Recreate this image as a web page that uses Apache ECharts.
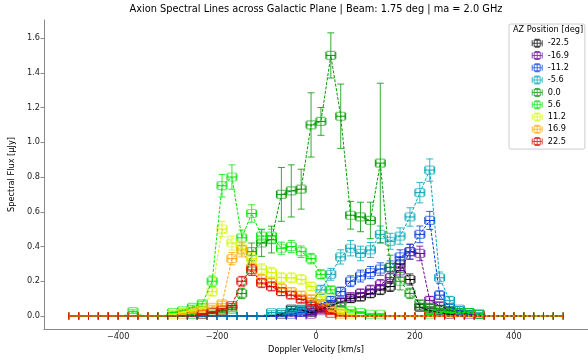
<!DOCTYPE html>
<html><head><meta charset="utf-8">
<script src="https://cdn.jsdelivr.net/npm/echarts@6/dist/echarts.min.js"></script>
<style>html,body{margin:0;padding:0;background:#fff}#c{width:588px;height:360px}</style>
</head><body><div id="c"></div>
<script>
// Doppler velocity bin centres [km/s]
const velocity = [
 -490,-470,-450,-430,-410,-390,-370,-350,-330,-310,
 -290,-270,-250,-230,-210,-190,-170,-150,-130,-110,
 -90,-70,-50,-30,-10,10,30,50,70,90,
 110,130,150,170,190,210,230,250,270,290,
 310,330,350,370,390,410,430,450,470,490];
const velocityHalfBin = 10;

const azLabels = ['-22.5','-16.9','-11.2','-5.6','0.0','5.6','11.2','16.9','22.5'];
const azColors = ['#000000','#66009d','#003bdd','#00a6b7','#009900','#00e600','#d4f600','#ffa600','#dd0000'];

const flux_m22_5 = [
 0,0,0,0,0,0,0,0,0,0,
 0,0,0,0,0,0,0,0,0,0,
 0,0.01,0.04,0.035,0.02,0.04,0.06,0.08,0.10,0.11,
 0.13,0.15,0.17,0.30,0.21,0.05,0.03,0.02,0.01,0,
 0,0,0,0,0,0,0,0,0,0];
const err_m22_5 = [
 0,0,0,0,0,0,0,0,0,0,
 0,0,0,0,0,0,0,0,0,0,
 0,0.007,0.014,0.013,0.01,0.014,0.017,0.02,0.022,0.023,
 0.025,0.027,0.029,0.038,0.032,0.016,0.012,0.01,0.007,0,
 0,0,0,0,0,0,0,0,0,0];

const flux_m16_9 = [
 0,0,0,0,0,0,0,0,0,0,
 0,0,0,0,0,0,0,0,0,0,
 0,0,0,0,0.01,0.03,0.055,0.08,0.11,0.13,
 0.15,0.18,0.22,0.26,0.37,0.36,0.09,0.06,0.03,0.02,
 0.01,0,0,0,0,0,0,0,0,0];
const err_m16_9 = [
 0,0,0,0,0,0,0,0,0,0,
 0,0,0,0,0,0,0,0,0,0,
 0,0,0,0,0.007,0.012,0.016,0.02,0.023,0.025,
 0.027,0.03,0.033,0.036,0.043,0.042,0.021,0.017,0.012,0.01,
 0.007,0,0,0,0,0,0,0,0,0];

const flux_m11_2 = [
 0,0,0,0,0,0,0,0,0,0,
 0,0,0,0,0,0,0,0,0,0,
 0,0,0.01,0.02,0.04,0.07,0.09,0.14,0.20,0.23,
 0.25,0.27,0.28,0.34,0.37,0.47,0.55,0.12,0.05,0.03,
 0.02,0.01,0,0,0,0,0,0,0,0];
const err_m11_2 = [
 0,0,0,0,0,0,0,0,0,0,
 0,0,0,0,0,0,0,0,0,0,
 0,0,0.007,0.01,0.014,0.018,0.021,0.026,0.031,0.034,
 0.035,0.036,0.037,0.041,0.043,0.048,0.052,0.024,0.016,0.012,
 0.01,0.007,0,0,0,0,0,0,0,0];

const flux_m5_6 = [
 0,0,0,0,0,0,0,0,0,0,
 0,0,0,0,0,0,0,0,0,0,
 0.02,0.02,0.03,0.04,0.08,0.15,0.24,0.34,0.39,0.36,
 0.38,0.47,0.43,0.46,0.57,0.71,0.84,0.22,0.09,0.04,
 0.02,0.01,0,0,0,0,0,0,0,0];
const err_m5_6 = [
 0,0,0,0,0,0,0,0,0,0,
 0,0,0,0,0,0,0,0,0,0,
 0.01,0.01,0.012,0.014,0.02,0.027,0.034,0.041,0.044,0.042,
 0.043,0.048,0.046,0.047,0.053,0.059,0.064,0.033,0.021,0.014,
 0.01,0.007,0,0,0,0,0,0,0,0];

const flux_0_0 = [
 0,0,0,0,0,0,0,0,0,0,
 0,0,0.01,0.01,0.02,0.03,0.04,0.13,0.37,0.42,
 0.44,0.70,0.72,0.73,1.10,1.12,1.50,1.15,0.58,0.57,
 0.55,0.88,0.28,0.20,0.13,0.07,0.05,0.04,0.03,0.02,
 0.02,0.01,0,0,0,0,0,0,0,0];
const err_0_0 = [
 0,0,0,0,0,0,0,0,0,0,
 0,0,0.005,0.005,0.008,0.01,0.012,0.03,0.05,0.077,
 0.077,0.155,0.15,0.115,0.185,0.08,0.13,0.185,0.08,0.085,
 0.105,0.46,0.07,0.05,0.03,0.02,0.015,0.012,0.01,0.008,
 0.008,0.005,0,0,0,0,0,0,0,0];

const flux_5_6 = [
 0,0,0,0,0,0,0.025,0,0,0,
 0.02,0.03,0.05,0.07,0.20,0.75,0.80,0.45,0.59,0.46,
 0.46,0.39,0.40,0.37,0.33,0.24,0.15,0.06,0.03,0.02,
 0.01,0.01,0,0,0,0,0.01,0.02,0.02,0.02,
 0.02,0.01,0,0,0,0,0,0,0,0];
const err_5_6 = [
 0,0,0,0,0,0,0.01,0,0,0,
 0.008,0.01,0.012,0.015,0.03,0.065,0.07,0.045,0.05,0.04,
 0.04,0.035,0.035,0.033,0.03,0.026,0.02,0.012,0.008,0.006,
 0.005,0.005,0,0,0,0,0.005,0.006,0.006,0.006,
 0.006,0.005,0,0,0,0,0,0,0,0];

const flux_11_2 = [
 0,0,0,0,0,0,0,0,0,0,
 0.01,0.02,0.03,0.04,0.14,0.50,0.42,0.39,0.33,0.27,
 0.25,0.22,0.22,0.21,0.17,0.11,0.05,0.02,0.01,0,
 0,0,0,0,0,0,0,0,0,0,
 0,0,0,0,0,0,0,0,0,0];
const err_11_2 = [
 0,0,0,0,0,0,0,0,0,0,
 0.004,0.006,0.008,0.01,0.025,0.045,0.04,0.04,0.035,0.03,
 0.03,0.028,0.028,0.027,0.024,0.02,0.012,0.007,0.004,0,
 0,0,0,0,0,0,0,0,0,0,
 0,0,0,0,0,0,0,0,0,0];

const flux_16_9 = [
 0,0,0,0,0,0,0,0,0,0,
 0,0.01,0.02,0.03,0.05,0.07,0.33,0.38,0.28,0.21,
 0.19,0.16,0.14,0.12,0.10,0.07,0.03,0.01,0,0,
 0,0,0,0,0,0,0,0,0,0,
 0,0,0,0,0,0,0,0,0,0];
const err_16_9 = [
 0,0,0,0,0,0,0,0,0,0,
 0,0.004,0.006,0.008,0.012,0.015,0.035,0.04,0.035,0.028,
 0.027,0.024,0.022,0.02,0.018,0.014,0.009,0.005,0,0,
 0,0,0,0,0,0,0,0,0,0,
 0,0,0,0,0,0,0,0,0,0];

const flux_22_5 = [
 0,0,0,0,0,0,0,0,0,0,
 0,0,0,0.01,0.02,0.035,0.06,0.20,0.265,0.19,
 0.17,0.14,0.12,0.095,0.065,0.045,0.015,0,0,0,
 0,0,0,0,0,0,0,0,0,0,
 0,0,0,0,0,0,0,0,0,0];
const err_22_5 = [
 0,0,0,0,0,0,0,0,0,0,
 0,0,0,0.004,0.006,0.008,0.012,0.028,0.032,0.027,
 0.026,0.022,0.02,0.018,0.014,0.012,0.006,0,0,0,
 0,0,0,0,0,0,0,0,0,0,
 0,0,0,0,0,0,0,0,0,0];

const xTicks = [-400,-200,0,200,400];
const yTicks = [0,0.2,0.4,0.6,0.8,1.0,1.2,1.4,1.6];

const fluxSets = [flux_m22_5, flux_m16_9, flux_m11_2, flux_m5_6, flux_0_0, flux_5_6, flux_11_2, flux_16_9, flux_22_5];
const errSets  = [err_m22_5, err_m16_9, err_m11_2, err_m5_6, err_0_0, err_5_6, err_11_2, err_16_9, err_22_5];

const FONT = 'DejaVu Sans';

function makeRender(color){
  return function(params, api){
    const v = api.value(0), y = api.value(1), e = api.value(2);
    const c = api.coord([v, y]);
    const l = api.coord([v - velocityHalfBin, y]);
    const r = api.coord([v + velocityHalfBin, y]);
    const cap = 3.5;
    const st = {stroke: color, lineWidth: 1, opacity: 1};
    const ch = [
      {type:'line', shape:{x1:l[0], y1:l[1], x2:r[0], y2:r[1]}, style:st},
      {type:'line', shape:{x1:l[0], y1:l[1]-cap, x2:l[0], y2:l[1]+cap}, style:st},
      {type:'line', shape:{x1:r[0], y1:r[1]-cap, x2:r[0], y2:r[1]+cap}, style:st}
    ];
    if (e > 0) {
      const t = api.coord([v, y + e]);
      const b = api.coord([v, y - e]);
      const se = {stroke: color, lineWidth: 1, opacity: 0.8};
      ch.push({type:'line', shape:{x1:t[0], y1:t[1], x2:b[0], y2:b[1]}, style:se});
      ch.push({type:'line', shape:{x1:t[0]-cap, y1:t[1], x2:t[0]+cap, y2:t[1]}, style:se});
      ch.push({type:'line', shape:{x1:b[0]-cap, y1:b[1], x2:b[0]+cap, y2:b[1]}, style:se});
    }
    if (y > 0) {
      ch.push({type:'rect', shape:{x:c[0]-4, y:c[1]-4, width:8, height:8},
        style:{fill:'none', stroke:color, lineWidth:1.2, opacity:0.55}});
    }
    return {type:'group', children: ch};
  };
}

const series = [];
azLabels.forEach(function(name, i){
  const vals = fluxSets[i], errs = errSets[i];
  series.push({
    type:'line', name: name + ' line', silent:true, animation:false,
    data: velocity.map(function(v, k){ return [v, vals[k]]; }),
    symbol:'none',
    lineStyle:{color: azColors[i], width:1, type:[3,1.5], opacity:1},
    itemStyle:{color: azColors[i]}
  });
  series.push({
    type:'custom', name: name, silent:true, animation:false,
    data: velocity.map(function(v, k){ return [v, vals[k], errs[k]]; }),
    encode:{x:0, y:1},
    itemStyle:{color: azColors[i]},
    renderItem: makeRender(azColors[i])
  });
});

const legendIcon = 'path://M0,4H11V5H0Z M0,1.5H1V7.5H0Z M10,1.5H11V7.5H10Z M5,0H6V9H5Z M3,0H8V1H3Z M3,8H8V9H3Z M2,1H9V8H2Z M3,2V7H8V2Z';

const chart = echarts.init(document.getElementById('c'), null, {renderer:'canvas'});
chart.setOption({
  animation:false,
  textStyle:{fontFamily: FONT},
  title:[
    {text:'Axion Spectral Lines across Galactic Plane | Beam: 1.75 deg | ma = 2.0 GHz',
     left:316, textAlign:'center', top:4, padding:0,
     textStyle:{fontSize:9.8, fontWeight:'normal', color:'#000', fontFamily:FONT}},
    {text:'AZ Position [deg]', left:513, top:26, padding:0, z:10,
     textStyle:{fontSize:8.2, fontWeight:'normal', color:'#000', fontFamily:FONT}}
  ],
  legend:{
    orient:'vertical', left:509, top:24,
    data: azLabels.map(function(n, i){ return {name:n, icon:legendIcon, itemStyle:{color:azColors[i], opacity:0.75}}; }),
    itemWidth:11, itemHeight:9, itemGap:3.3,
    padding:[14.7, 16, 3, 22.7],
    backgroundColor:'rgba(255,255,255,0.8)', borderColor:'#cccccc', borderWidth:1, borderRadius:2,
    textStyle:{fontSize:8.2, color:'#000', fontFamily:FONT},
    selectedMode:false
  },
  grid:{left:44, top:20, width:544, height:309},
  xAxis:{
    type:'value', min:-550, max:550,
    axisLine:{show:true, onZero:false, lineStyle:{color:'#888888', width:1}},
    axisTick:{show:true, customValues:xTicks, length:3.5, lineStyle:{color:'#888888'}},
    axisLabel:{customValues:xTicks, fontSize:8.2, color:'#222', margin:4, fontFamily:FONT,
      formatter:function(v){ return v < 0 ? '\u2212' + Math.abs(v) : String(v); }},
    splitLine:{show:false},
    name:'Doppler Velocity [km/s]', nameLocation:'middle', nameGap:16,
    nameTextStyle:{fontSize:8.2, color:'#000', fontFamily:FONT}
  },
  yAxis:{
    type:'value', min:-0.075, max:1.704,
    axisLine:{show:true, onZero:false, lineStyle:{color:'#888888', width:1}},
    axisTick:{show:true, customValues:yTicks, length:3.5, lineStyle:{color:'#888888'}},
    axisLabel:{customValues:yTicks, fontSize:8.2, color:'#222', margin:4, fontFamily:FONT,
      formatter:function(v){ return v.toFixed(1); }},
    splitLine:{show:false},
    name:'Spectral Flux [\u03bcJy]', nameLocation:'middle', nameGap:27, nameRotate:90,
    nameTextStyle:{fontSize:8.2, color:'#000', fontFamily:FONT}
  },
  series: series
});
</script>
</body></html>
